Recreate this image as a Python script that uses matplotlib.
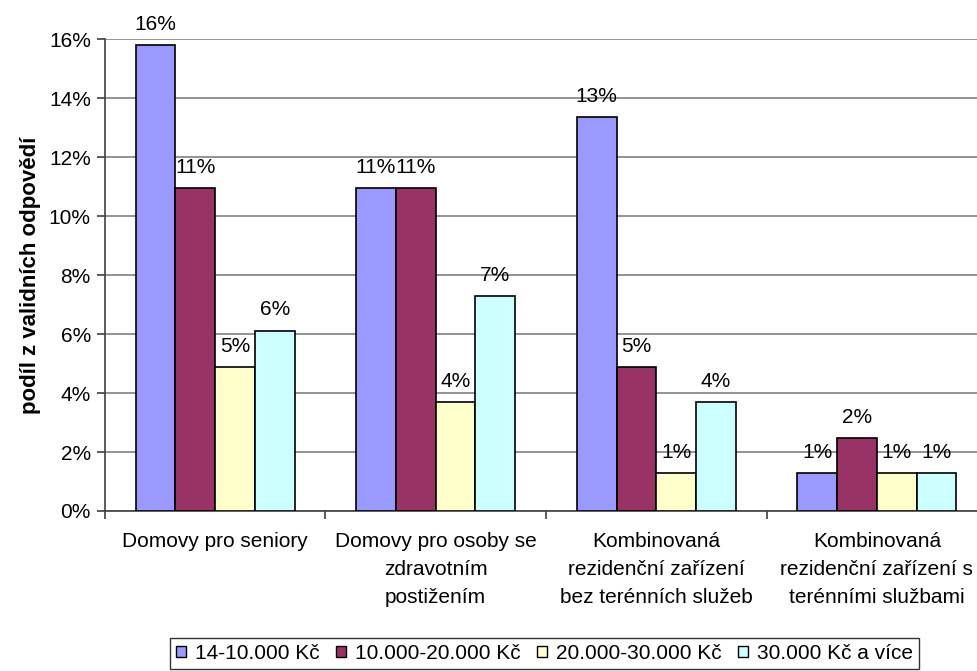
import numpy as np
import matplotlib
matplotlib.use("Agg")
import matplotlib.pyplot as plt
from matplotlib.patches import Patch

# data
categories = [
    "Domovy pro seniory",
    "Domovy pro osoby se\nzdravotním\npostižením",
    "Kombinovaná\nrezidenční zařízení\nbez terénních služeb",
    "Kombinovaná\nrezidenční zařízení s\nterénními službami",
]
series_names = ["14-10.000 Kč", "10.000-20.000 Kč", "20.000-30.000 Kč", "30.000 Kč a více"]
income_1 = [15.8, 10.95, 13.37, 1.28]
income_2 = [10.95, 10.95, 4.88, 2.46]
income_3 = [4.88, 3.70, 1.28, 1.28]
income_4 = [6.12, 7.30, 3.70, 1.28]
labels_1 = ["16%", "11%", "13%", "1%"]
labels_2 = ["11%", "11%", "5%", "2%"]
labels_3 = ["5%", "4%", "1%", "1%"]
labels_4 = ["6%", "7%", "4%", "1%"]
colors = ["#9999FF", "#993366", "#FFFFCC", "#CCFFFF"]

values = [income_1, income_2, income_3, income_4]
labels = [labels_1, labels_2, labels_3, labels_4]

plt.rcParams['font.family'] = ['Liberation Sans', 'DejaVu Sans']

fig = plt.figure(figsize=(9.78, 6.71), dpi=100)
# plot area runs past the right edge, as in the reference
ax = fig.add_axes([0.1071, 0.2385, 0.9023, 0.7029])

x = np.arange(len(categories))
w = 1 / 5.55
for i, (vals, labs) in enumerate(zip(values, labels)):
    pos = x + (i - 1.5) * w
    ax.bar(pos, vals, width=w, color=colors[i], edgecolor="black", linewidth=1.2, zorder=3)
    for px, v, t in zip(pos, vals, labs):
        ax.annotate(t, (px, v), xytext=(0, 11), textcoords="offset points",
                    ha="center", va="baseline", fontsize=15, zorder=4)

ax.set_xlim(-0.5, len(categories) - 0.5)
ax.set_ylim(0, 16)
ax.set_yticks(np.arange(0, 17, 2))
ax.set_yticklabels([f"{v}%" for v in range(0, 17, 2)], fontsize=15)
ax.yaxis.grid(True, color="#808080", linewidth=1.2, zorder=0)

# category boundaries get the tick marks, names sit between them
ax.set_xticks(np.arange(-0.5, len(categories)))
ax.set_xticklabels([])
ax.set_xticks(x, minor=True)
ax.set_xticklabels(categories, minor=True, fontsize=15, linespacing=1.6)
ax.tick_params(axis="x", which="minor", length=0, pad=15)
ax.tick_params(axis="x", which="major", length=6, width=1.2, color="#404040")
ax.tick_params(axis="y", length=6, width=1.2, color="#404040", pad=4)

for s in ["top", "right"]:
    ax.spines[s].set_visible(False)
for s in ["left", "bottom"]:
    ax.spines[s].set_color("#404040")
    ax.spines[s].set_linewidth(1.2)

ax.set_ylabel("podíl z validních odpovědí", fontsize=16, fontweight="bold", labelpad=6)

handles = [Patch(facecolor=c, edgecolor="black", linewidth=1) for c in colors]
leg = fig.legend(handles, series_names, loc="lower left", bbox_to_anchor=(170 / 978, 1 - 669 / 671),
                 ncol=4, frameon=True, fancybox=False, edgecolor="black", fontsize=15,
                 handlelength=0.5, handleheight=0.4, handletextpad=0.4, columnspacing=0.8,
                 borderpad=0.28, borderaxespad=0)
leg.get_frame().set_linewidth(1.0)

fig.savefig("out.png", dpi=100)
